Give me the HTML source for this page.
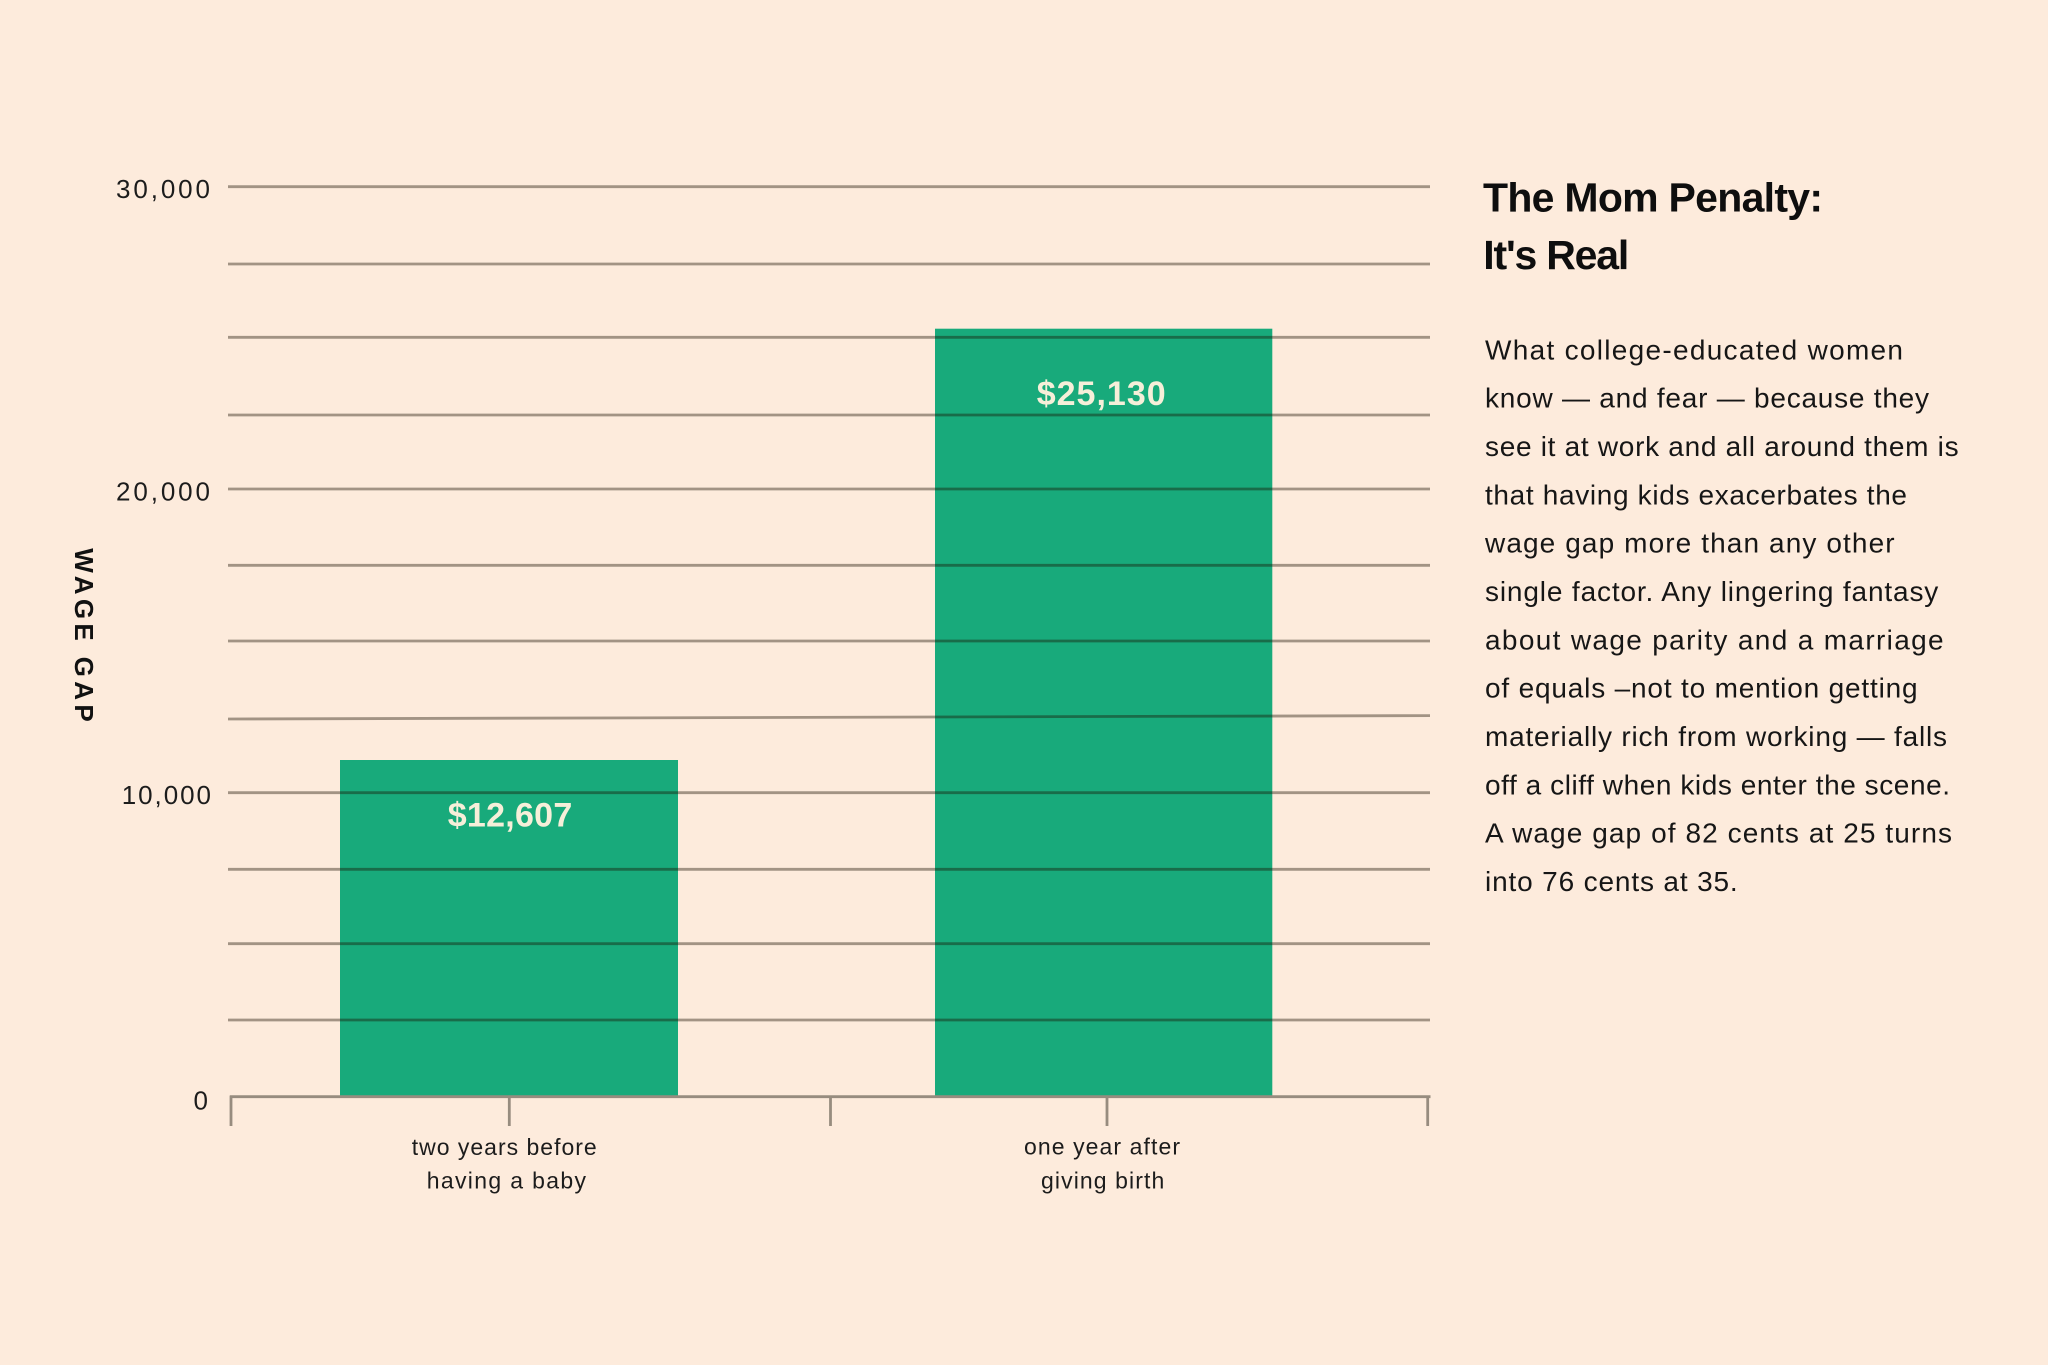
<!DOCTYPE html>
<html>
<head>
<meta charset="utf-8">
<style>
  html, body { margin: 0; padding: 0; background: #fdebdc; }
  svg { display: block; }
  text { font-family: "Liberation Sans", "DejaVu Sans", sans-serif; }
</style>
</head>
<body>
<svg width="2048" height="1365" viewBox="0 0 2048 1365" xmlns="http://www.w3.org/2000/svg">
  <rect x="0" y="0" width="2048" height="1365" fill="#fdebdc"/>

  <!-- bars -->
  <rect x="340" y="760" width="338" height="337" fill="#18aa7b"/>
  <rect x="935" y="328.7" width="337.3" height="768.3" fill="#18aa7b"/>

  <!-- gridlines (semi-transparent so they darken over bars) -->
  <g stroke="rgba(25,15,0,0.40)" stroke-width="2.8" fill="none">
    <line x1="228" y1="186.7" x2="1430" y2="186.7"/>
    <line x1="228" y1="264" x2="1430" y2="264"/>
    <line x1="228" y1="337.3" x2="1430" y2="337.3"/>
    <line x1="228" y1="415" x2="1430" y2="415"/>
    <line x1="228" y1="489" x2="1430" y2="489"/>
    <line x1="228" y1="565.3" x2="1430" y2="565.3"/>
    <line x1="228" y1="641" x2="1430" y2="641"/>
    <line x1="228" y1="719" x2="1430" y2="715.6"/>
    <line x1="228" y1="792.7" x2="1430" y2="792.7"/>
    <line x1="228" y1="869.3" x2="1430" y2="869.3"/>
    <line x1="228" y1="943.7" x2="1430" y2="943.7"/>
    <line x1="228" y1="1020" x2="1430" y2="1020"/>
  </g>

  <!-- axis baseline and ticks -->
  <g stroke="#978c7f" stroke-width="2.8" fill="none">
    <line x1="230" y1="1096.7" x2="1430.5" y2="1096.7"/>
    <line x1="231" y1="1095.5" x2="231" y2="1126"/>
    <line x1="509.3" y1="1095.5" x2="509.3" y2="1126"/>
    <line x1="830.5" y1="1095.5" x2="830.5" y2="1126"/>
    <line x1="1107" y1="1095.5" x2="1107" y2="1126"/>
    <line x1="1427.7" y1="1095.5" x2="1427.7" y2="1126"/>
  </g>

  <!-- y tick labels -->
  <g fill="#1c1c1c" font-size="26">
    <text x="116" y="198" textLength="94" lengthAdjust="spacing">30,000</text>
    <text x="116" y="500.3" textLength="94" lengthAdjust="spacing">20,000</text>
    <text x="121.7" y="804" textLength="89.3" lengthAdjust="spacing">10,000</text>
    <text x="193.5" y="1109.5">0</text>
  </g>

  <!-- y axis title -->
  <text transform="translate(75,548.3) rotate(90)" x="0" y="0" font-size="26" font-weight="bold" fill="#111" textLength="173.4" lengthAdjust="spacing">WAGE GAP</text>

  <!-- x labels -->
  <g fill="#1c1c1c" font-size="23">
    <text x="411.7" y="1155" textLength="185" lengthAdjust="spacing">two years before</text>
    <text x="426.7" y="1188.3" textLength="159.3" lengthAdjust="spacing">having a baby</text>
    <text x="1024" y="1154.5" textLength="156" lengthAdjust="spacing">one year after</text>
    <text x="1041" y="1188.3" textLength="123.3" lengthAdjust="spacing">giving birth</text>
  </g>

  <!-- bar value labels -->
  <g fill="#f6efd9" font-size="34" font-weight="bold">
    <text x="447.7" y="826.7" textLength="124.6" lengthAdjust="spacing">$12,607</text>
    <text x="1036.7" y="405" textLength="129" lengthAdjust="spacing">$25,130</text>
  </g>

  <!-- title -->
  <g fill="#0e0e0e" font-size="41" font-weight="bold">
    <text x="1483" y="211.7" textLength="340" lengthAdjust="spacing">The Mom Penalty:</text>
    <text x="1483.3" y="269" textLength="146" lengthAdjust="spacing">It's Real</text>
  </g>

  <!-- paragraph -->
  <g fill="#161616" font-size="28">
    <text x="1485" y="359.3" textLength="418" lengthAdjust="spacing">What college-educated women</text>
    <text x="1485" y="407.6" textLength="444" lengthAdjust="spacing">know — and fear — because they</text>
    <text x="1485" y="456" textLength="473.6" lengthAdjust="spacing">see it at work and all around them is</text>
    <text x="1485" y="504.3" textLength="422" lengthAdjust="spacing">that having kids exacerbates the</text>
    <text x="1485" y="552.6" textLength="409.6" lengthAdjust="spacing">wage gap more than any other</text>
    <text x="1485" y="601" textLength="453.3" lengthAdjust="spacing">single factor. Any lingering fantasy</text>
    <text x="1485" y="649.3" textLength="458.6" lengthAdjust="spacing">about wage parity and a marriage</text>
    <text x="1485" y="697.6" textLength="432.6" lengthAdjust="spacing">of equals –not to mention getting</text>
    <text x="1485" y="746" textLength="462" lengthAdjust="spacing">materially rich from working — falls</text>
    <text x="1485" y="794.3" textLength="465" lengthAdjust="spacing">off a cliff when kids enter the scene.</text>
    <text x="1485" y="842.6" textLength="467" lengthAdjust="spacing">A wage gap of 82 cents at 25 turns</text>
    <text x="1485" y="891" textLength="252.7" lengthAdjust="spacing">into 76 cents at 35.</text>
  </g>
</svg>
</body>
</html>
